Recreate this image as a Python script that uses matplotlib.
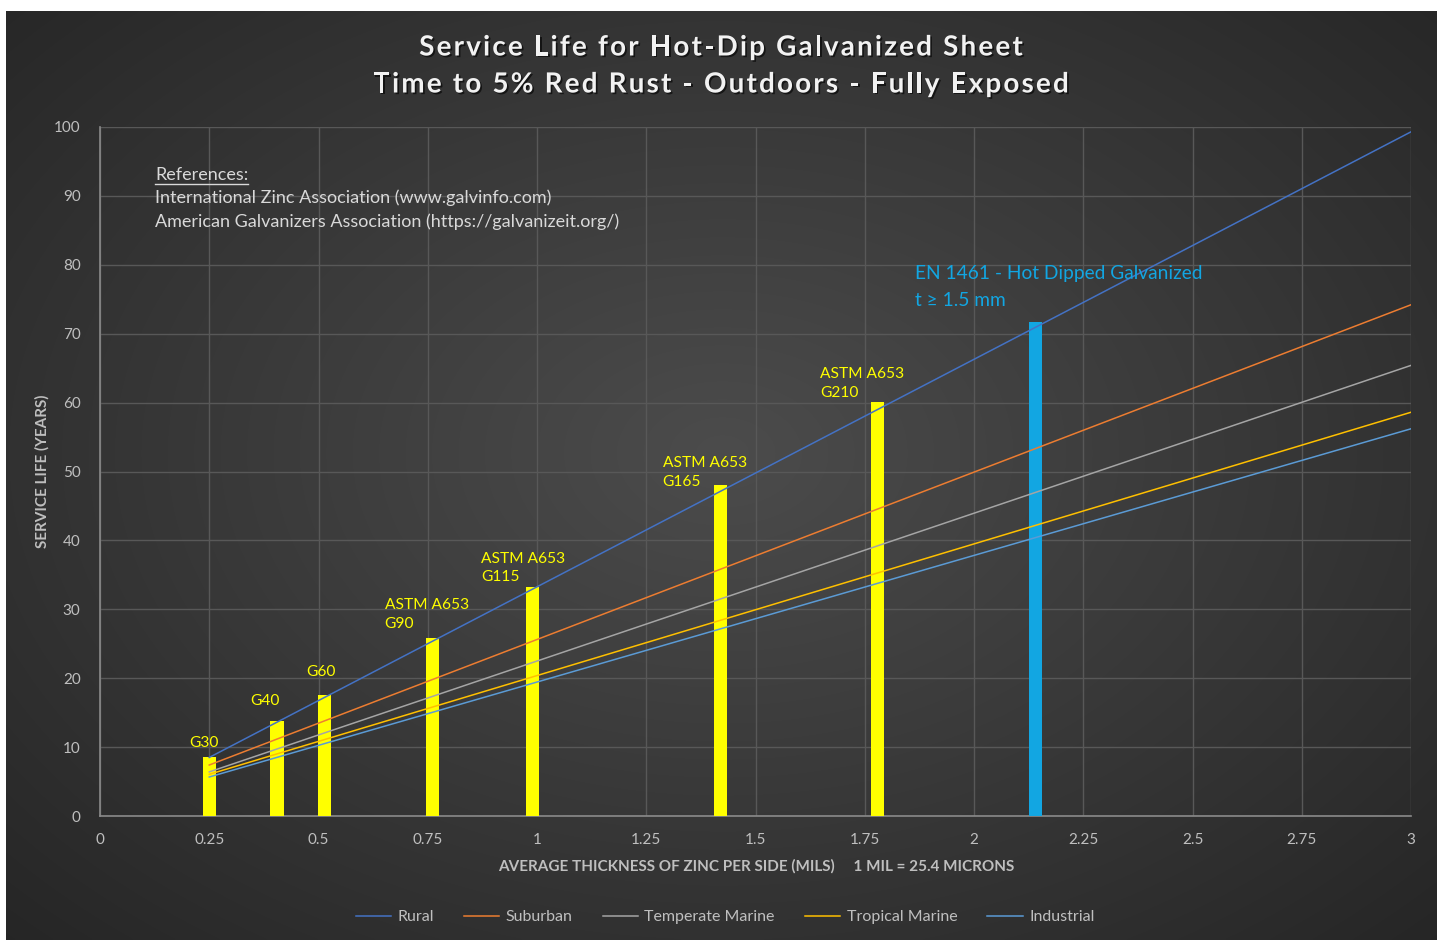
import numpy as np
import matplotlib
matplotlib.use("Agg")
import matplotlib.pyplot as plt
import matplotlib.patheffects as pe
from matplotlib.font_manager import FontProperties
from matplotlib.textpath import TextToPath

plt.rcParams['font.family'] = ['Lato', 'DejaVu Sans']

# ---- data ----
line_x = [0.25, 3.0]
series_names = ["Rural", "Suburban", "Temperate Marine", "Tropical Marine", "Industrial"]
rural = [8.5, 99.3]
suburban = [7.4, 74.2]
temperate = [6.4, 65.4]
tropical = [6.05, 58.6]
industrial = [5.66, 56.2]
series_colors = ["#4472C4", "#ED7D31", "#A5A5A5", "#FFC000", "#5B9BD5"]

bar_x = [0.25, 0.405, 0.513, 0.76, 0.99, 1.42, 1.78]
bar_h = [8.5, 13.8, 17.6, 25.8, 33.2, 48.0, 60.1]
bar_labels = ["G30", "G40", "G60", "ASTM A653\nG90", "ASTM A653\nG115",
              "ASTM A653\nG165", "ASTM A653\nG210"]
en_x = [2.14]
en_h = [71.7]
en_label = "EN 1461 - Hot Dipped Galvanized\nt ≥ 1.5 mm"

x_ticks = [0, 0.25, 0.5, 0.75, 1, 1.25, 1.5, 1.75, 2, 2.25, 2.5, 2.75, 3]
x_tick_labels = ["0", "0.25", "0.5", "0.75", "1", "1.25", "1.5", "1.75", "2",
                 "2.25", "2.5", "2.75", "3"]
y_ticks = [0, 10, 20, 30, 40, 50, 60, 70, 80, 90, 100]

# label offsets (points) for the bar labels
label_offsets = [(-4, 5.5), (-9, 9.5), (-2, 11.5), (-4, 5), (-7, 2), (-11.5, -3), (-11.5, 1.4)]

W, H = 1443, 940
fig = plt.figure(figsize=(W / 100, H / 100), dpi=100, facecolor="white")

# background gradient panel
bg = fig.add_axes([6 / W, 0, (1437 - 6) / W, 1 - 11 / H])
bg.set_axis_off()
yy, xx = np.mgrid[0:400, 0:600]
cx, cy = 300, 190
r = np.sqrt(((xx - cx) / 600) ** 2 + ((yy - cy) / 420) ** 2)
r = np.clip(r / 0.72, 0, 1)
c0 = np.array([0x4c, 0x4c, 0x4c]) / 255
c1 = np.array([0x25, 0x25, 0x25]) / 255
img = c0[None, None, :] * (1 - r[..., None]) + c1[None, None, :] * r[..., None]
bg.imshow(img, aspect="auto", extent=[0, 1, 0, 1], interpolation="bilinear")
bg.set_zorder(-10)

ax = fig.add_axes([100 / W, (H - 816) / H, (1411 - 100) / W, (816 - 127) / H])
ax.set_facecolor("none")
ax.set_xlim(0, 3)
ax.set_ylim(0, 100)

grid_c = "#585858"
ax.set_xticks(x_ticks)
ax.set_xticklabels(x_tick_labels)
ax.set_yticks(y_ticks)
ax.grid(True, color=grid_c, linewidth=1.0, zorder=0)
for s in ["top", "right"]:
    ax.spines[s].set_visible(False)
ax.spines["left"].set_color("#8a8a8a")
ax.spines["bottom"].set_color("#8a8a8a")
ax.spines["left"].set_linewidth(1.2)
ax.spines["bottom"].set_linewidth(1.2)
ax.tick_params(length=0, colors="#bfbfbf", labelsize=11, pad=12)
ax.tick_params(axis="y", pad=14)

# bars
ax.bar(bar_x, bar_h, width=0.03, color="#FFFF00", zorder=3)
ax.bar(en_x, en_h, width=0.03, color="#12A6E2", zorder=3)

# lines
for vals, name, col in zip([rural, suburban, temperate, tropical, industrial],
                           series_names, series_colors):
    ax.plot(line_x, vals, color=col, linewidth=1.1, label=name, zorder=4)

# bar labels
for x, h, lab, off in zip(bar_x, bar_h, bar_labels, label_offsets):
    ax.annotate(lab, (x, h), xytext=off, textcoords="offset points",
                ha="center", va="bottom", multialignment="left",
                color="#FFFF00", fontsize=11.2, zorder=5, linespacing=1.45)
ax.annotate(en_label, (en_x[0], en_h[0]), xytext=(17, 9), textcoords="offset points",
            ha="center", va="bottom", multialignment="left",
            color="#12A6E2", fontsize=13.8, zorder=5, linespacing=1.75)

# references
ref_c = "#d9d9d9"
fig.text(155 / W, 1 - 175 / H, "References:", color=ref_c, fontsize=13, va="center", ha="left")
fig.add_artist(plt.Line2D([155 / W, 248 / W], [1 - 184 / H, 1 - 184 / H],
                          transform=fig.transFigure, color=ref_c, linewidth=1))
fig.text(155 / W, 1 - 198 / H, "International Zinc Association (www.galvinfo.com)",
         color=ref_c, fontsize=13, va="center", ha="left")
fig.text(155 / W, 1 - 222 / H, "American Galvanizers Association (https://galvanizeit.org/)",
         color=ref_c, fontsize=13, va="center", ha="left")

# titles with letter spacing
t2p = TextToPath()
tprop = FontProperties(family=['Lato', 'DejaVu Sans'], weight="bold", size=20)


def width_px(s):
    w, _, _ = t2p.get_text_width_height_descent(s, tprop, ismath=False)
    return w * 100 / 72.0


def spaced_title(s, xc_px, y_px, spacing_px):
    bar_w = width_px("|")
    adv = [width_px(s[:i] + "|") - bar_w for i in range(len(s))]
    total = width_px(s) + spacing_px * (len(s) - 1)
    x0 = xc_px - total / 2
    for i, ch in enumerate(s):
        if ch == " ":
            continue
        fig.text((x0 + adv[i] + i * spacing_px) / W, 1 - y_px / H, ch,
                 fontproperties=tprop, color="#f2f2f2", ha="left", va="center",
                 path_effects=[pe.withSimplePatchShadow(offset=(1.2, -1.2),
                                                        shadow_rgbFace="black",
                                                        alpha=0.6)])


spaced_title("Service Life for Hot-Dip Galvanized Sheet", 721, 47.5, 2.2)
spaced_title("Time to 5% Red Rust - Outdoors - Fully Exposed", 721, 84.5, 2.2)

# axis labels
fig.text(756 / W, 1 - 866 / H,
         "AVERAGE THICKNESS OF ZINC PER SIDE (MILS)     1 MIL = 25.4 MICRONS",
         color="#bfbfbf", fontsize=11, fontweight="bold", ha="center", va="center")
fig.text(42 / W, 1 - 471 / H, "SERVICE LIFE (YEARS)", color="#bfbfbf", fontsize=11,
         fontweight="bold", ha="center", va="center", rotation=90)

# legend
leg = fig.legend(loc="center", bbox_to_anchor=(725 / W, 1 - 917 / H), ncol=5,
                 frameon=False, fontsize=11.5, handlelength=2.2, handletextpad=0.4,
                 columnspacing=1.9)
for t in leg.get_texts():
    t.set_color("#bfbfbf")

fig.savefig("out.png", dpi=100, facecolor="white")
